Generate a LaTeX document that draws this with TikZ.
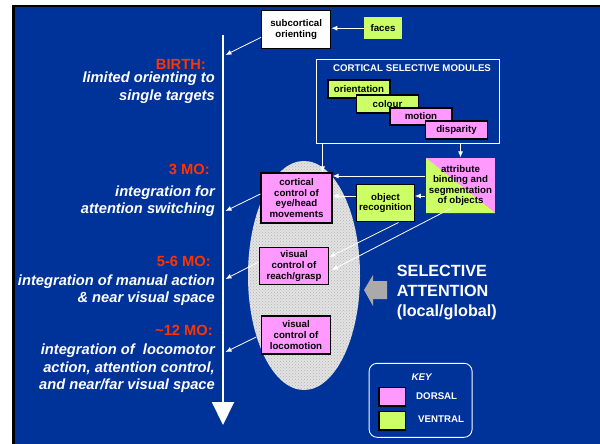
\documentclass[tikz,border=0pt]{standalone}
\usepackage{fontspec}
\setmainfont{Liberation Sans}
\usetikzlibrary{arrows.meta,patterns}

\definecolor{slide}{RGB}{0,51,153}
\definecolor{dorsal}{RGB}{255,153,255}
\definecolor{ventral}{RGB}{204,255,102}
\definecolor{age}{RGB}{255,51,0}
\definecolor{attn}{RGB}{170,170,170}

\tikzset{
  modbox/.style={draw=black,line width=1.2pt,align=center,inner sep=0pt,
    font=\fontsize{9.7}{10.6}\selectfont\bfseries},
  dors/.style={modbox,fill=dorsal},
  vent/.style={modbox,fill=ventral},
  link/.style={draw=white,line width=0.8pt,-{Latex[length=6pt,width=5pt]}},
  stage/.style={anchor=east,inner sep=0pt,text=age,
    font=\fontsize{14.7}{17.5}\selectfont\bfseries},
  gain/.style={anchor=east,inner sep=0pt,align=right,text=white,
    font=\fontsize{14.7}{17.5}\selectfont\bfseries\itshape},
  keytext/.style={inner sep=0pt,text=white,font=\fontsize{9.7}{11}\selectfont\bfseries},
}

\begin{document}
\begin{tikzpicture}[x=1pt,y=-1pt]
  \useasboundingbox (0,0) rectangle (600,444);
  \fill[black] (12,5) rectangle (600,444);
  \fill[slide] (14.5,7.3) rectangle (600,444);

  % age axis
  \coordinate (top) at (223,35);
  \coordinate (end) at (223,425);
  \draw[white,line width=2pt,-{Triangle[length=23pt,width=22pt]}] (top) -- (end);
  \coordinate (b0) at (225.5,55);
  \coordinate (b1) at (225.5,211);
  \coordinate (b2) at (225.5,279);
  \coordinate (b3) at (225.5,352);

  \node[stage] (birth) at (206,64) {BIRTH:};
  \node[gain] (g0) at (215,87.5) {limited orienting to\\single targets};
  \node[stage] (m3) at (210,169) {3 MO:};
  \node[gain] (g1) at (215,201) {integration for\\attention switching};
  \node[stage] (m56) at (211,261) {5-6 MO:};
  \node[gain] (g2) at (215,290) {integration of manual action\\\& near visual space};
  \node[stage] (m12) at (213,330) {\textasciitilde12 MO:};
  \node[gain] (g3) at (215,368.5)
    {integration of\ \ locomotor\\action, attention control,\\and near/far visual space};

  % dorsal stream region
  \fill[gray!22] (304,275.5) ellipse [x radius=56pt, y radius=114.5pt];
  \fill[pattern=crosshatch dots,pattern color=gray!60] (304,275.5) ellipse [x radius=56pt, y radius=114.5pt];

  \node[modbox,fill=white,minimum width=69pt,minimum height=37.6pt] (sub) at (296.2,29.5) {subcortical\\orienting};
  \node[modbox,draw=none,fill=ventral,minimum width=37.7pt,minimum height=21.7pt] (faces) at (383,28.2) {faces};

  % cortical modules
  \node[draw=white,line width=0.9pt,minimum width=183pt,minimum height=84pt] (mods) at (407.5,101) {};
  \node[keytext] (title) at (412,68) {CORTICAL SELECTIVE MODULES};
  \node[vent,minimum width=62pt,minimum height=18pt] (ori) at (359,89) {orientation};
  \node[vent,minimum width=61.5pt,minimum height=18pt] (col) at (387.5,104) {colour};
  \node[dors,minimum width=62pt,minimum height=17pt] (mot) at (421,116.5) {motion};
  \node[dors,minimum width=62pt,minimum height=18pt] (dis) at (456.5,130) {disparity};

  \node[dors,minimum width=71pt,minimum height=50pt] (ccm) at (296.5,198) {cortical\\control of\\eye/head\\movements};
  \node[vent,minimum width=57.6pt,minimum height=37.7pt] (obj) at (385.5,203) {object\\recognition};
  \node[modbox,draw=none,fill=dorsal,minimum width=69pt,minimum height=55pt,
    path picture={\fill[ventral] (path picture bounding box.north west)
      -- (path picture bounding box.south east)
      -- (path picture bounding box.south west) -- cycle;}]
    (attr) at (460.5,185.5) {attribute\\binding and\\segmentation\\of objects};
  \node[dors,minimum width=69.7pt,minimum height=37.7pt] (reach) at (294,266) {visual\\control of\\reach/grasp};
  \node[dors,minimum width=69pt,minimum height=38pt] (loco) at (296,335) {visual\\control of\\locomotion};

  \draw[link] (faces.west) -- (faces.west -| sub.east);
  \draw[link] ([xshift=7pt]mods.south west) -- ([xshift=7pt]mods.south west |- ccm.north);
  \draw[link] (mods.south -| attr.north) -- (attr.north);
  \draw[link] ([yshift=9.5pt]attr.west) -- ([yshift=9.5pt]attr.west -| ccm.east);
  \draw[link] ([yshift=-10.5pt]attr.west) -- ([yshift=-10.5pt]attr.west -| obj.east);
  \draw[link] ([yshift=7pt]obj.west) -- ([yshift=7pt]obj.west -| ccm.east);
  \draw[link] ([xshift=13pt]obj.south) -- ([yshift=9pt]reach.east);
  \draw[link] ([xshift=-10pt,yshift=5pt]attr.south) -- ([xshift=2.5pt,yshift=-4pt]reach.east);

  \draw[link] ([yshift=-7.8pt]sub.west) -- (b0);
  \draw[link] ([yshift=4pt]ccm.west) -- (b1);
  \draw[link] ([yshift=4pt]reach.west) -- (b2);
  \draw[link] ([xshift=-4.6pt,yshift=-2pt]loco.west) -- (b3);

  % selective attention
  \fill[attn] (387,281) -- (373,281) -- (373,275) -- (364,290) -- (373,306) -- (373,299) -- (387,299) -- cycle;
  \node[anchor=west,align=left,inner sep=0pt,text=white,
    font=\fontsize{16.2}{20.2}\selectfont\bfseries] (sel) at (396.7,292.5)
    {SELECTIVE\\ATTENTION\\(local/global)};

  % key
  \node[draw=white,line width=0.9pt,rounded corners=8pt,minimum width=103pt,minimum height=74pt] (key) at (420.6,400.3) {};
  \node[keytext,font=\fontsize{9.7}{11}\selectfont\bfseries\itshape] (keyhd) at (421.7,377.3) {KEY};
  \node[dors,minimum width=26.3pt,minimum height=18.7pt] (kd) at (392.2,396.7) {};
  \node[vent,minimum width=26.3pt,minimum height=18.7pt] (kv) at (392.2,420.7) {};
  \node[keytext,anchor=west] (kdl) at (416,396) {DORSAL};
  \node[keytext,anchor=west] (kvl) at (418,419.3) {VENTRAL};
\end{tikzpicture}
\end{document}
